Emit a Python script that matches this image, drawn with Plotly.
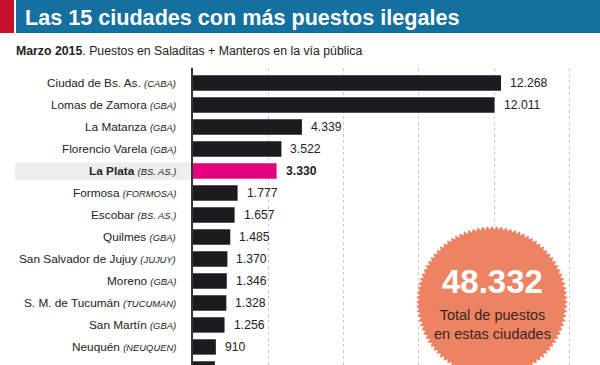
import numpy as np
import plotly.graph_objects as go

# ---------------- data ----------------
cities = ["Ciudad de Bs. As.", "Lomas de Zamora", "La Matanza", "Florencio Varela",
          "La Plata", "Formosa", "Escobar", "Quilmes", "San Salvador de Jujuy",
          "Moreno", "S. M. de Tucumán", "San Martín", "Neuquén", "Mar del Plata"]
regions = ["CABA", "GBA", "GBA", "GBA", "BS. AS.", "FORMOSA", "BS. AS.", "GBA",
           "JUJUY", "GBA", "TUCUMAN", "GBA", "NEUQUEN", "BS. AS."]
values = [12268, 12011, 4339, 3522, 3330, 1777, 1657, 1485, 1370, 1346, 1328, 1256, 910, 870]
highlight = "La Plata"
total_label = "48.332"
total_text = ["Total de puestos", "en estas ciudades"]
grid_ticks = [3000, 6000, 9000, 12000, 15000]

title = "Las 15 ciudades con más puestos ilegales"
subtitle_bold = "Marzo 2015"
subtitle_rest = ". Puestos en Saladitas + Manteros en la vía pública"

# ---------------- layout geometry ----------------
W, H = 600, 365
L, T = 193, 68
PW, PH = W - L, H - T


def px(x):
    return (x - L) / PW


def py(y):
    return (H - y) / PH


FONT = "Liberation Sans, Arial, Helvetica, sans-serif"
DARK = "#1c1b20"
PINK = "#e5007e"

idx = list(range(len(cities)))
colors = [PINK if c == highlight else DARK for c in cities]

fig = go.Figure()
fig.add_trace(go.Bar(
    x=values, y=idx, orientation="h", width=0.7,
    marker=dict(color=colors, line=dict(width=0)),
    hoverinfo="skip",
))

# category labels and value labels
for i, (c, r, v) in enumerate(zip(cities, regions, values)):
    name = f"<b>{c}</b>" if c == highlight else c
    lab = f"{name} <i><span style='font-size:9.4px'>({r})</span></i>"
    fig.add_annotation(x=px(178), y=i, xref="paper", yref="y", text=lab,
                       showarrow=False, xanchor="right", yanchor="middle",
                       font=dict(family=FONT, size=11.8, color="#222"))
    s = f"{v:,}".replace(",", ".")
    if c == highlight:
        s = f"<b>{s}</b>"
    fig.add_annotation(x=v, y=i, xref="x", yref="y", text=s, showarrow=False,
                       xanchor="left", yanchor="middle", xshift=7,
                       font=dict(family=FONT, size=12.2, color="#222"))

shapes = []
hi = cities.index(highlight)
shapes.append(dict(type="rect", xref="paper", yref="y", x0=px(15), x1=px(192),
                   y0=hi - 0.4, y1=hi + 0.4, fillcolor="#eeeeee", line=dict(width=0),
                   layer="below"))
# header
shapes.append(dict(type="rect", xref="paper", yref="paper", x0=px(0), x1=px(14),
                   y0=py(33), y1=py(0), fillcolor="#c8102e", line=dict(width=0)))
shapes.append(dict(type="rect", xref="paper", yref="paper", x0=px(16), x1=px(600),
                   y0=py(33), y1=py(0), fillcolor="#13709f", line=dict(width=0)))

# starburst
cx, cy = 492, 302
n = 100
ang = np.linspace(0, 2 * np.pi, 2 * n, endpoint=False)
rad = np.where(np.arange(2 * n) % 2 == 0, 76.0, 72.5)
pts = [f"{r*np.cos(a):.2f},{r*np.sin(a):.2f}" for r, a in zip(rad, ang)]
path = "M" + " L".join(pts) + " Z"
shapes.append(dict(type="path", xref="paper", yref="paper",
                   xsizemode="pixel", ysizemode="pixel",
                   xanchor=px(cx), yanchor=py(cy), path=path,
                   fillcolor="#ec8464", line=dict(width=0), layer="above"))

annotations = []
annotations.append(dict(xref="paper", yref="paper", x=px(23), y=py(17),
                        xanchor="left", yanchor="middle", showarrow=False,
                        text=f"<b>{title}</b>",
                        font=dict(family=FONT, size=21.6, color="white")))
annotations.append(dict(xref="paper", yref="paper", x=px(14), y=py(51),
                        xanchor="left", yanchor="middle", showarrow=False,
                        text=f"<b>{subtitle_bold}</b>{subtitle_rest}",
                        font=dict(family=FONT, size=12.3, color="#222")))
annotations.append(dict(xref="paper", yref="paper", x=px(cx), y=py(281),
                        xanchor="center", yanchor="middle", showarrow=False,
                        text=f"<b>{total_label}</b>",
                        font=dict(family=FONT, size=33, color="white")))
annotations.append(dict(xref="paper", yref="paper", x=px(cx), y=py(324),
                        xanchor="center", yanchor="middle", showarrow=False,
                        text="<br>".join(total_text),
                        font=dict(family=FONT, size=14.5, color="#3a2520")))
for a in annotations:
    fig.add_annotation(**a)

fig.update_layout(
    width=W, height=H,
    margin=dict(l=L, r=0, t=T, b=0, pad=0, autoexpand=False),
    paper_bgcolor="white", plot_bgcolor="white",
    showlegend=False, bargap=0.3,
    shapes=shapes,
    xaxis=dict(range=[0, PW / (501 - 193) * 12268], tickvals=grid_ticks,
               showticklabels=False, showgrid=True, gridcolor="#c9c9c9",
               griddash="dot", gridwidth=1, zeroline=False, showline=False,
               fixedrange=True),
    yaxis=dict(range=[12.82, -0.68], tickvals=idx, showticklabels=False,
               ticks="", showgrid=False, zeroline=False, automargin=False,
               showline=True, linecolor="#333", linewidth=1.5,
               fixedrange=True),
)

fig.write_html("out.html", config={"displayModeBar": False},
               post_script="document.body.style.margin='0';document.body.style.overflow='hidden';")
